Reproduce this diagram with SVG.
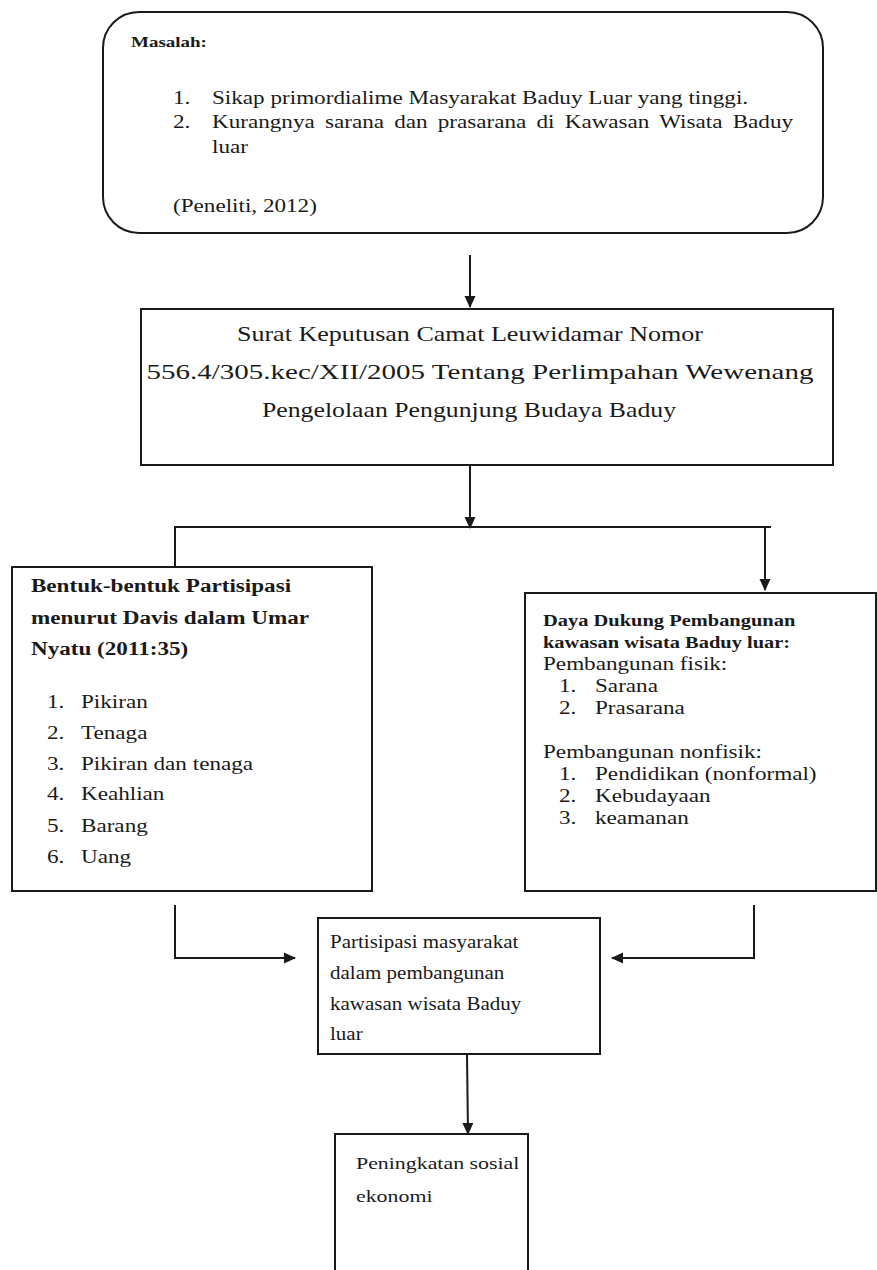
<svg xmlns="http://www.w3.org/2000/svg" width="877" height="1270" viewBox="0 0 877 1270">
<style>
.box{fill:#fff;stroke:#1a1a1a;stroke-width:2}
.ln{fill:none;stroke:#1a1a1a;stroke-width:2}
text{font-family:"Liberation Serif","Times New Roman",serif;fill:#1a1a1a;font-size:17.8px}
.b{font-weight:bold}
.m{font-size:14.6px}
.h{font-size:21px}
.r{font-size:16.5px}
.p{font-size:17.5px}
</style>
<defs>
<marker id="ah" markerWidth="12" markerHeight="12" refX="11" refY="6" orient="auto" markerUnits="userSpaceOnUse">
<path d="M0,0.5 L12,6 L0,11.5 Z" fill="#1a1a1a"/>
</marker>
</defs>
<rect width="877" height="1270" fill="#fff"/>

<g id="masalah">
<rect class="box" x="103" y="12" width="720" height="221" rx="36" ry="36"/>
<g transform="scale(1.3,1)">
<text class="m b" x="100.8" y="47">Masalah:</text>
<text x="133.1" y="104">1.</text>
<text x="163.1" y="104">Sikap primordialime Masyarakat Baduy Luar yang tinggi.</text>
<text x="133.1" y="128">2.</text>
<text x="163.1" y="128" word-spacing="3.4">Kurangnya sarana dan prasarana di Kawasan Wisata Baduy</text>
<text x="163.1" y="153">luar</text>
<text x="133.1" y="212">(Peneliti, 2012)</text>
</g>
</g>

<g id="sk-camat">
<rect class="box" x="141" y="309" width="692" height="156"/>
<g transform="scale(1.3,1)">
<text class="h" x="361.5" y="341" text-anchor="middle" textLength="358.5" lengthAdjust="spacingAndGlyphs">Surat Keputusan Camat Leuwidamar Nomor</text>
<text class="h" x="369.2" y="379" text-anchor="middle" textLength="513" lengthAdjust="spacingAndGlyphs">556.4/305.kec/XII/2005 Tentang Perlimpahan Wewenang</text>
<text class="h" x="360.8" y="417" text-anchor="middle" textLength="318.5" lengthAdjust="spacingAndGlyphs">Pengelolaan Pengunjung Budaya Baduy</text>
</g>
</g>

<g id="bentuk-partisipasi">
<rect class="box" x="12" y="567" width="360" height="324"/>
<g transform="scale(1.3,1)">
<text class="b" x="23.8" y="592">Bentuk-bentuk Partisipasi</text>
<text class="b" x="23.8" y="624">menurut Davis dalam Umar</text>
<text class="b" x="23.8" y="655">Nyatu (2011:35)</text>
<text x="36.2" y="708">1.</text><text x="62.3" y="708">Pikiran</text>
<text x="36.2" y="739">2.</text><text x="62.3" y="739">Tenaga</text>
<text x="36.2" y="770">3.</text><text x="62.3" y="770">Pikiran dan tenaga</text>
<text x="36.2" y="800">4.</text><text x="62.3" y="800">Keahlian</text>
<text x="36.2" y="832">5.</text><text x="62.3" y="832">Barang</text>
<text x="36.2" y="863">6.</text><text x="62.3" y="863">Uang</text>
</g>
</g>

<g id="daya-dukung">
<rect class="box" x="525" y="593" width="351" height="298"/>
<g transform="scale(1.24,1)">
<text class="r b" x="437.9" y="626">Daya Dukung Pembangunan</text>
<text class="r b" x="437.9" y="648">kawasan wisata Baduy luar:</text>
</g>
<g transform="scale(1.3,1)">
<text x="417.7" y="670">Pembangunan fisik:</text>
<text x="430" y="692">1.</text><text x="457.7" y="692">Sarana</text>
<text x="430" y="714">2.</text><text x="457.7" y="714">Prasarana</text>
<text x="417.7" y="758">Pembangunan nonfisik:</text>
<text x="430" y="780">1.</text><text x="457.7" y="780">Pendidikan (nonformal)</text>
<text x="430" y="802">2.</text><text x="457.7" y="802">Kebudayaan</text>
<text x="430" y="824">3.</text><text x="457.7" y="824">keamanan</text>
</g>
</g>

<g id="partisipasi-masyarakat">
<rect class="box" x="318" y="918" width="282" height="136"/>
<g transform="scale(1.18,1)">
<text x="279.7" y="948">Partisipasi masyarakat</text>
<text x="279.7" y="979">dalam pembangunan</text>
<text x="279.7" y="1010">kawasan wisata Baduy</text>
<text x="279.7" y="1040">luar</text>
</g>
</g>

<g id="peningkatan">
<rect class="box" x="335" y="1134" width="193" height="150"/>
<g transform="scale(1.25,1)">
<text class="p" x="284.8" y="1169">Peningkatan sosial</text>
<text class="p" x="284.8" y="1202">ekonomi</text>
</g>
</g>

<g id="connectors">
<line class="ln" x1="470" y1="255" x2="470" y2="307" marker-end="url(#ah)"/>
<line class="ln" x1="470" y1="465" x2="470" y2="528" marker-end="url(#ah)"/>
<polyline class="ln" points="175,567 175,527 771,527"/>
<line class="ln" x1="765" y1="527" x2="765" y2="590" marker-end="url(#ah)"/>
<polyline class="ln" points="175,905 175,958 295,958" marker-end="url(#ah)"/>
<polyline class="ln" points="754,905 754,958 612,958" marker-end="url(#ah)"/>
<line class="ln" x1="467" y1="1054" x2="468" y2="1134" marker-end="url(#ah)"/>
</g>
</svg>
